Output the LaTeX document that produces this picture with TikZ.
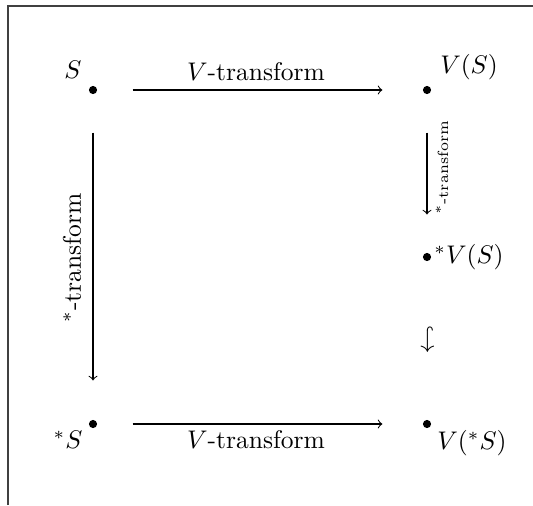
\documentclass[tikz,border=0pt]{standalone}
\begin{document}
\begin{tikzpicture}[x=0.3922pt,y=-0.3922pt,
  dot/.style={circle,fill=black,inner sep=0pt,minimum size=3.2pt},
  lbl/.style={inner sep=0pt},
  arr/.style={->,line width=0.4pt}]
\useasboundingbox (0,0) rectangle (533,505);
\draw[black!75,line width=0.7pt] (8,505) -- (8,6) -- (533,6);
% dots
\node[dot] (S) at (93,90) {};
\node[dot] (VS) at (427,90) {};
\node[dot] (sVS) at (427,257) {};
\node[dot] (sS) at (93,424) {};
\node[dot] (VsS) at (427,424) {};
% node labels
\node[lbl] (lS) at (73,70) {$S$};
\node[lbl] (lVS) at (469,67) {$V(S)$};
\node[lbl] (lsVS) at (469,257) {${}^*V(S)$};
\node[lbl] (lsS) at (68,440) {${}^*S$};
\node[lbl] (lVsS) at (472,443) {$V({}^*S)$};
% arrows
\draw[arr,shorten <=13.7pt,shorten >=15.7pt] (S) -- (VS);
\draw[arr,shorten <=13.7pt,shorten >=15.7pt] (sS) -- (VsS);
\draw[arr,shorten <=14.9pt,shorten >=15.3pt] (S) -- (sS);
\draw[arr,shorten <=14.9pt,shorten >=14.9pt] (VS) -- (sVS);
% arrow labels
\node[lbl] (t1) at (256,72) {$V$-transform};
\node[lbl] (t2) at (256,440) {$V$-transform};
\node[lbl,rotate=90] (t3) at (72,258) {${}^*$-transform};
\node[lbl,rotate=90,font=\fontsize{5.8}{7}\selectfont] (t4) at (442,168) {${}^*$-transform};
% hook arrow
\node[lbl,rotate=-90] (hk) at (427,340) {$\hookrightarrow$};
\end{tikzpicture}
\end{document}
